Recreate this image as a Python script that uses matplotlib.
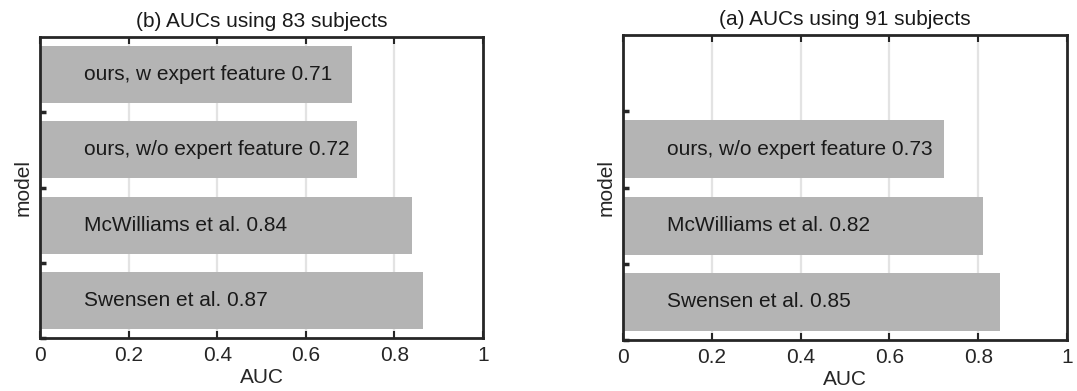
import matplotlib
matplotlib.use("Agg")
import matplotlib.pyplot as plt

plt.rcParams['font.family'] = ['Liberation Sans', 'DejaVu Sans']

# Panel (b): 83 subjects (top to bottom)
models_b = ["ours, w expert feature 0.71", "ours, w/o expert feature 0.72",
            "McWilliams et al. 0.84", "Swensen et al. 0.87"]
auc_b = [0.705, 0.715, 0.84, 0.865]

# Panel (a): 91 subjects (top to bottom)
models_a = ["ours, w/o expert feature 0.73", "McWilliams et al. 0.82",
            "Swensen et al. 0.85"]
auc_a = [0.722, 0.811, 0.849]

xticks = [0, 0.2, 0.4, 0.6, 0.8, 1]
xticklabels = ["0", "0.2", "0.4", "0.6", "0.8", "1"]

W, H = 1077, 391
fig = plt.figure(figsize=(W / 100, H / 100), dpi=100)

def px_axes(x0, x1, ytop, ybot):
    return fig.add_axes([x0 / W, (H - ybot) / H, (x1 - x0) / W, (ybot - ytop) / H])

ax_b = px_axes(40, 483, 37, 338)
ax_a = px_axes(623, 1067, 35, 340)

FS = 15
edge = "#262626"
bar_color = "#b4b4b4"

def draw(ax, names, vals, title):
    n_slots = 4
    ys = [len(names) - i for i in range(len(names))]
    for x in [0.2, 0.4, 0.6, 0.8]:
        ax.axvline(x, color="#e3e3e3", lw=1.6, zorder=0)
    ax.barh(ys, vals, height=0.76, color=bar_color, edgecolor="none", zorder=2)
    for y, name in zip(ys, names):
        ax.text(0.1, y, name, va="center", ha="left", fontsize=FS, color="#1a1a1a", zorder=3)
    ax.set_xlim(0, 1)
    ax.set_ylim(0.5, n_slots + 0.5)
    ax.set_xticks(xticks)
    ax.set_xticklabels(xticklabels)
    ax.set_yticks([0.5, 1.5, 2.5, 3.5])
    ax.set_yticklabels([])
    ax.tick_params(axis="x", direction="in", top=True, bottom=True, length=5, width=1.5,
                   color=edge, labelsize=FS, labelcolor="#262626", pad=6)
    ax.tick_params(axis="y", direction="in", left=True, right=False, length=4, width=2.5,
                   color=edge)
    for s in ax.spines.values():
        s.set_color(edge)
        s.set_linewidth(2)
    ax.set_xlabel("AUC", fontsize=FS, color="#262626", labelpad=2)
    ax.set_ylabel("model", fontsize=FS, color="#262626", labelpad=2)
    ax.set_title(title, fontsize=FS, color="#1a1a1a", pad=7)

draw(ax_b, models_b, auc_b, "(b) AUCs using 83 subjects")
draw(ax_a, models_a, auc_a, "(a) AUCs using 91 subjects")

fig.savefig("out.png", dpi=100, facecolor="white")
